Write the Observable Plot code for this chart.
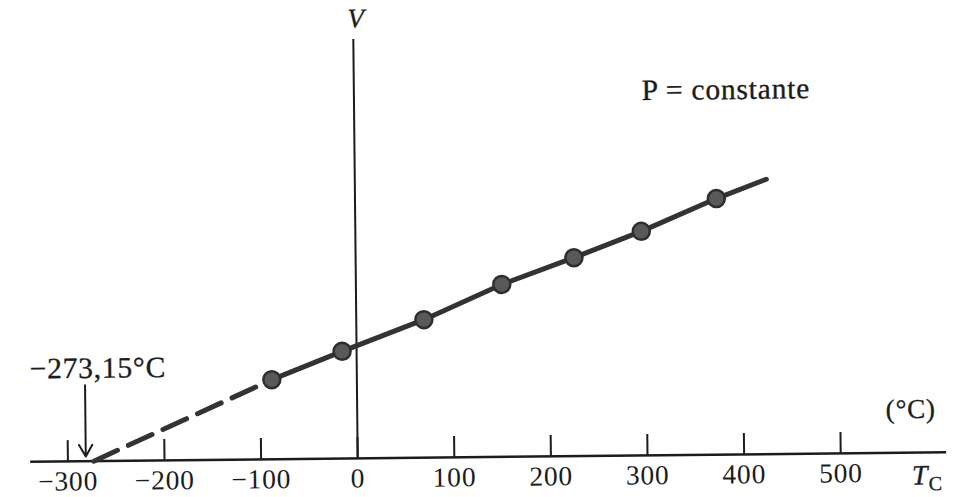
<!DOCTYPE html>
<html>
<head>
<meta charset="utf-8">
<script src="https://cdn.jsdelivr.net/npm/d3@7"></script>
<script src="https://cdn.jsdelivr.net/npm/@observablehq/plot@0.6"></script>
<style>
  html, body { margin: 0; padding: 0; background: #fff; overflow: hidden; }
  #chart svg { display: block; transform: rotate(-0.6deg); transform-origin: 480px 248px; }
  #chart svg text { letter-spacing: 0.8px; }
</style>
</head>
<body>
<div id="chart"></div>
<script>
// Measured points (temperature in °C, volume in arbitrary units)
const temperatures = [-88, -15, 70, 151, 226, 296, 374];
const volumes = [19.9, 26.8, 34.5, 43.1, 49.6, 56.0, 64.0];
// Absolute zero where the extrapolated line meets V = 0
const absoluteZero = -273.15;
// End of the solid fitted line
const lineEndT = 426;
const lineEndV = 68.7;
// Axis ticks
const xTicks = [-300, -200, -100, 0, 100, 200, 300, 400, 500];

const measured = temperatures.map((T, i) => ({T, V: volumes[i]}));
const solid = [...measured, {T: lineEndT, V: lineEndV}];
const dashed = [{T: absoluteZero, V: 0}, measured[0]];
const fmt = d => d < 0 ? "\u2212" + (-d) : String(d);

const ink = "#1c1c1c";
const heavy = {stroke: ink, strokeWidth: 0.35};
const chart = Plot.plot({
  width: 961,
  height: 497,
  marginLeft: 28,
  marginRight: 17,
  marginTop: 37.7,
  marginBottom: 40.4,
  style: {fontFamily: "'Liberation Serif', 'Times New Roman', serif", fontSize: "28px", color: ink, background: "#fff"},
  x: {domain: [-338.5, 609.7], label: null, axis: null},
  y: {domain: [0, 104.7], label: null, axis: null},
  marks: [
    Plot.ruleY([0], {stroke: ink, strokeWidth: 2.5}),
    Plot.ruleX([0], {stroke: ink, strokeWidth: 2}),
    Plot.ruleX(xTicks, {x: d => d, y1: 0, y2: 5.2, stroke: ink, strokeWidth: 2}),
    Plot.axisX(xTicks, {tickSize: 0, tickPadding: 9.5, tickFormat: fmt, fontSize: 27.5, fill: ink, ...heavy, label: null}),
    Plot.line(dashed, {x: "T", y: "V", stroke: "#333", strokeWidth: 5, strokeDasharray: "26,12"}),
    Plot.line(solid, {x: "T", y: "V", stroke: "#333", strokeWidth: 5}),
    Plot.dot(measured, {x: "T", y: "V", r: 8.5, fill: "#595959", stroke: "#2e2e2e", strokeWidth: 2.5}),
    Plot.arrow([absoluteZero], {x1: d => d, x2: d => d, y1: 19, y2: 1.2, dx: -8, stroke: ink, strokeWidth: 2, headLength: 10}),
    Plot.text(["\u2212273,15°C"], {text: d => d, x: absoluteZero, y: 23.2, dx: 5, fontSize: 29.5, fill: ink, ...heavy}),
    Plot.text(["V"], {text: d => d, x: 0, frameAnchor: "top", dy: -12, dx: 3, lineAnchor: "bottom", fontStyle: "italic", fontSize: 27, fill: ink, ...heavy}),
    Plot.text(["P = constante"], {text: d => d, x: 385, y: 91.2, fontSize: 29.5, fill: ink, ...heavy}),
    Plot.text(["(°C)"], {text: d => d, x: 573, y: 10.8, fontSize: 27, fill: ink, ...heavy}),
    Plot.text(["T"], {text: d => d, x: 582, y: 0, dy: 23, fontStyle: "italic", fontSize: 28, fill: ink, ...heavy}),
    Plot.text(["C"], {text: d => d, x: 598, y: 0, dy: 31.5, fontSize: 20, fill: ink, ...heavy})
  ]
});
document.getElementById("chart").appendChild(chart);
</script>
</body>
</html>
